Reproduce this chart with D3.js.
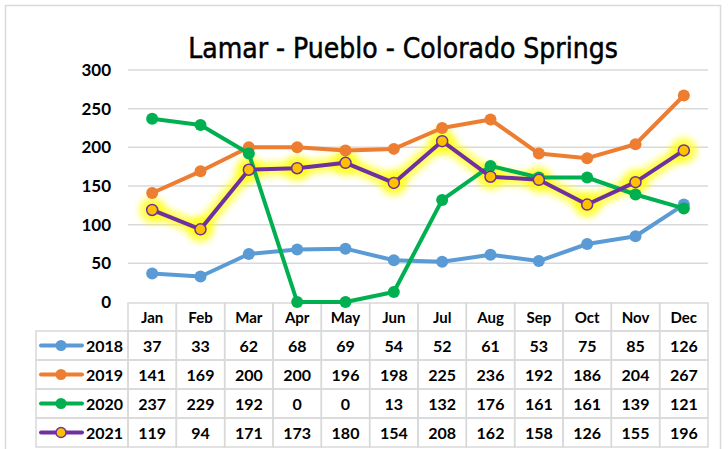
<!DOCTYPE html>
<html>
<head>
<meta charset="utf-8">
<script src="https://cdn.jsdelivr.net/npm/d3@7"></script>
<style>
  body { margin: 0; background: #fff; }
  svg { display: block; }
</style>
</head>
<body>
<svg id="chart" width="728" height="449"></svg>
<script>
const months = ['Jan','Feb','Mar','Apr','May','Jun','Jul','Aug','Sep','Oct','Nov','Dec'];
const years = ['2018','2019','2020','2021'];
const v2018 = [37, 33, 62, 68, 69, 54, 52, 61, 53, 75, 85, 126];
const v2019 = [141, 169, 200, 200, 196, 198, 225, 236, 192, 186, 204, 267];
const v2020 = [237, 229, 192, 0, 0, 13, 132, 176, 161, 161, 139, 121];
const v2021 = [119, 94, 171, 173, 180, 154, 208, 162, 158, 126, 155, 196];
const yTicks = [0, 50, 100, 150, 200, 250, 300];
const colors = ['#5B9BD5', '#ED7D31', '#00B050', '#7030A0'];

const series = years.map((y, i) => ({ name: y, values: [v2018, v2019, v2020, v2021][i], color: colors[i] }));

const svg = d3.select('#chart');
const width = +svg.attr('width');
const height = +svg.attr('height');

// chart frame
svg.append('rect').attr('x', 5.5).attr('y', 5.5).attr('width', 715).attr('height', 460)
  .attr('fill', '#fff').attr('stroke', '#D9D9D9').attr('stroke-width', 1.5);

const x = d3.scaleBand().domain(months).range([128, 708]);
const y = d3.scaleLinear().domain([0, 300]).range([302, 70]);
const cx = m => x(m) + x.bandwidth() / 2;

const defs = svg.append('defs');
const glow = defs.append('filter').attr('id', 'glow').attr('x', '-20%').attr('y', '-50%').attr('width', '140%').attr('height', '200%');
glow.append('feGaussianBlur').attr('stdDeviation', 3.5);

// title
svg.append('text').attr('x', 403).attr('y', 58).attr('text-anchor', 'middle')
  .attr('font-family', 'DejaVu Sans Condensed, DejaVu Sans').attr('font-size', 28)
  .attr('fill', '#000').attr('stroke', '#000').attr('stroke-width', 0.5)
  .text('Lamar - Pueblo - Colorado Springs');

// grid
svg.append('g').selectAll('line').data(yTicks.filter(t => t > 0)).enter().append('line')
  .attr('x1', 128).attr('x2', 708).attr('y1', d => y(d)).attr('y2', d => y(d))
  .attr('stroke', '#D9D9D9').attr('stroke-width', 1.5);

// y axis
const yAxis = svg.append('g').attr('transform', 'translate(116,0)')
  .call(d3.axisLeft(y).tickValues(yTicks).tickSize(0).tickPadding(0));
yAxis.select('.domain').remove();
yAxis.selectAll('text').attr('font-family', 'Lato, sans-serif').attr('font-weight', 'bold')
  .attr('font-size', 17).attr('fill', '#000').attr('x', -5);

// table
const rowTop = 303, headH = 28, rowH = 29;
const table = svg.append('g');
const tc = '#D9D9D9';
// header cells
table.selectAll('.hcell').data(months).enter().append('rect')
  .attr('x', d => x(d)).attr('y', rowTop).attr('width', x.bandwidth()).attr('height', headH)
  .attr('fill', 'none').attr('stroke', tc).attr('stroke-width', 1.5);
table.selectAll('.htext').data(months).enter().append('text')
  .attr('x', d => cx(d)).attr('y', rowTop + headH / 2 + 6).attr('text-anchor', 'middle')
  .attr('font-family', 'Lato, sans-serif').attr('font-weight', 'bold').attr('font-size', 15).text(d => d);

series.forEach((s, i) => {
  const top = rowTop + headH + i * rowH;
  table.append('rect').attr('x', 36).attr('y', top).attr('width', 128 - 36).attr('height', rowH)
    .attr('fill', 'none').attr('stroke', tc).attr('stroke-width', 1.5);
  months.forEach((m, j) => {
    table.append('rect').attr('x', x(m)).attr('y', top).attr('width', x.bandwidth()).attr('height', rowH)
      .attr('fill', 'none').attr('stroke', tc).attr('stroke-width', 1.5);
    table.append('text').attr('x', cx(m)).attr('y', top + rowH / 2 + 6).attr('text-anchor', 'middle')
      .attr('font-family', 'Lato, sans-serif').attr('font-weight', 'bold').attr('font-size', 16)
      .text(s.values[j]);
  });
  const my = top + rowH / 2;
  table.append('line').attr('x1', 41).attr('x2', 82).attr('y1', my).attr('y2', my)
    .attr('stroke', s.color).attr('stroke-width', 4).attr('stroke-linecap', 'round');
  table.append('circle').attr('cx', 61).attr('cy', my).attr('r', i === 3 ? 5 : 5.5)
    .attr('fill', i === 3 ? '#FFC000' : s.color).attr('stroke', s.color).attr('stroke-width', i === 3 ? 1.5 : 0);
  table.append('text').attr('x', 86).attr('y', my + 6)
    .attr('font-family', 'Lato, sans-serif').attr('font-weight', 'bold').attr('font-size', 16).text(s.name);
});

// lines
const line = d3.line().x((d, i) => cx(months[i])).y(d => y(d));

// glow for 2021
const g21 = series[3];
svg.append('path').attr('d', line(g21.values)).attr('fill', 'none')
  .attr('stroke', '#FFFF00').attr('stroke-width', 14).attr('stroke-linejoin', 'round')
  .attr('stroke-opacity', 0.7).attr('filter', 'url(#glow)');
svg.append('g').selectAll('circle').data(g21.values).enter().append('circle')
  .attr('cx', (d, i) => cx(months[i])).attr('cy', d => y(d)).attr('r', 13)
  .attr('fill', '#FFFF00').attr('opacity', 0.7).attr('filter', 'url(#glow)');

series.forEach((s, i) => {
  svg.append('path').attr('d', line(s.values)).attr('fill', 'none')
    .attr('stroke', s.color).attr('stroke-width', 4).attr('stroke-linejoin', 'round');
  svg.append('g').selectAll('circle').data(s.values).enter().append('circle')
    .attr('cx', (d, j) => cx(months[j])).attr('cy', d => y(d)).attr('r', i === 3 ? 5.5 : 6)
    .attr('fill', i === 3 ? '#FFC000' : s.color)
    .attr('stroke', s.color).attr('stroke-width', i === 3 ? 1.5 : 0);
});
</script>
</body>
</html>
